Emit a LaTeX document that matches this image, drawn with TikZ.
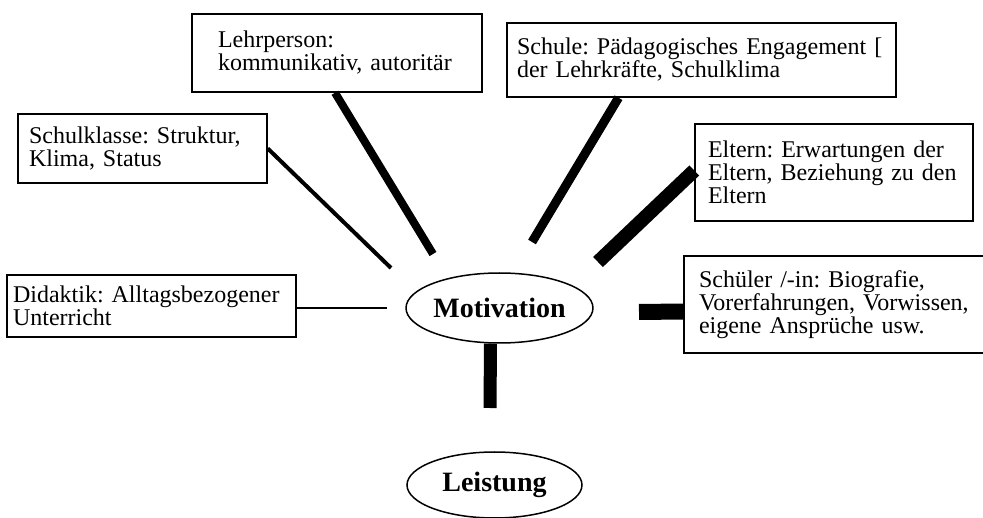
\documentclass[tikz,border=0pt]{standalone}
\usepackage{fontspec}
\setmainfont{Liberation Serif}
\usetikzlibrary{shapes.geometric}

\begin{document}
\begin{tikzpicture}[x=1pt, y=-1pt, every node/.style={font=\fontsize{24}{23}\selectfont}, factor/.style={draw, line width=1.5pt, rectangle, align=left, inner ysep=0pt}, goal/.style={draw, ellipse, line width=1.5pt, inner sep=0pt, font=\fontsize{28}{30}\selectfont\bfseries}, link/.style={line cap=butt}]
	\useasboundingbox (0,0) rectangle (983,518);
	\node[factor, text width=238pt, inner xsep=26pt, minimum height=78pt] (lehr) at (337,53) {Lehrperson:\\kommunikativ,~autoritär};
	\node[factor, text width=227pt, inner xsep=11pt, minimum height=69pt] (klasse) at (142.5,148.5) {Schulklasse:~Struktur,\\Klima,~Status};
	\node[factor, text width=277pt, inner xsep=6pt, minimum height=62pt] (did) at (151.5,306) {Didaktik:~Alltagsbezogener\\Unterricht};
	\node[factor, text width=369pt, inner xsep=10pt, minimum height=74pt] (schule) at (701.5,60) {Schule:~Pädagogisches~Engagement~[\\der~Lehrkräfte,~Schulklima};
	\node[factor, text width=252pt, inner xsep=13pt, minimum height=97pt] (eltern) at (834,172.5) {Eltern:~Erwartungen~der\\Eltern,~Beziehung~zu~den\\Eltern};
	\node[factor, text width=296pt, inner xsep=15pt, minimum height=97pt] (schueler) at (847,304.5) {Schüler~/-in:~Biografie,\\Vorerfahrungen,~Vorwissen,\\eigene~Ansprüche~usw.};
	\node[goal, minimum width=175pt, minimum height=70pt] (mot) at (499.5,308) {Motivation};
	\node[goal, minimum width=175pt, minimum height=66pt] (leist) at (494.5,485) {Leistung};
	\coordinate (d0) at (387,308);
	\coordinate (k0) at (391,268);
	\coordinate (l0) at (433,254);
	\coordinate (s0) at (532,242);
	\coordinate (e0) at (598,262);
	\coordinate (p0) at (639,312);
	\coordinate (m0) at (490,408);
	\draw[link, line width=2pt] ([yshift=-2pt]did.east) -- (d0);
	\draw[link, line width=4pt] (klasse.east) -- (k0);
	\draw[link, line width=8pt] ([xshift=-2pt]lehr.south) -- (l0);
	\draw[link, line width=9pt] ([xshift=-83pt]schule.south) -- (s0);
	\draw[link, line width=14pt] ([yshift=2pt]eltern.west) -- (e0);
	\draw[link, line width=16pt] ([yshift=-7pt]schueler.west) -- (p0);
	\draw[link, line width=13pt] ([xshift=-9pt]mot.south) -- (m0);
\end{tikzpicture}
\end{document}
